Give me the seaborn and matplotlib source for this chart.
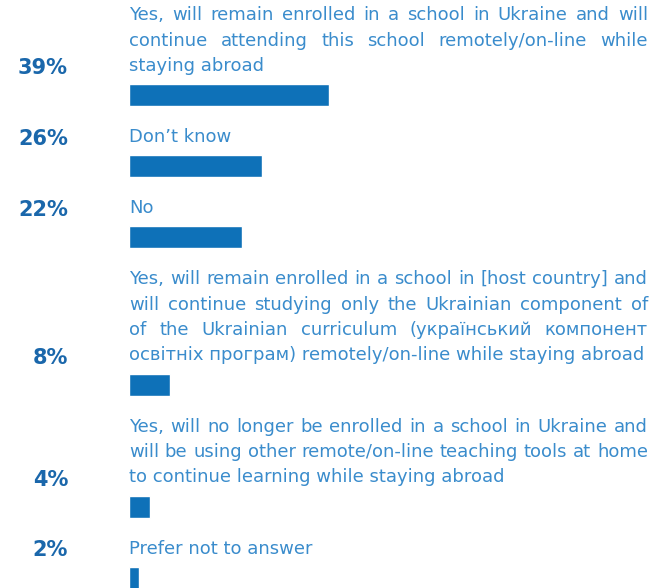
import matplotlib
matplotlib.use("Agg")
import matplotlib.pyplot as plt
import seaborn as sns
import pandas as pd

# data
values = [39, 26, 22, 8, 4, 2]
pct_labels = ["39%", "26%", "22%", "8%", "4%", "2%"]
answers = [
    ["Yes, will remain enrolled in a school in Ukraine and will",
     "continue attending this school remotely/on-line while",
     "staying abroad"],
    ["Don\u2019t know"],
    ["No"],
    ["Yes, will remain enrolled in a school in [host country] and",
     "will continue studying only the Ukrainian component of",
     "of the Ukrainian curriculum (український компонент",
     "освітніх програм) remotely/on-line while staying abroad"],
    ["Yes, will no longer be enrolled in a school in Ukraine and",
     "will be using other remote/on-line teaching tools at home",
     "to continue learning while staying abroad"],
    ["Prefer not to answer"],
]

BAR_C = "#0e71b8"
TXT_C = "#3a8ccc"
PCT_C = "#1a67ab"

W, H = 667, 588
sns.set_style("white")
plt.rcParams["font.family"] = ["DejaVu Sans"]

# vertical layout in pixels, from the number of label lines
line_h, first_y, to_bar, to_next, bar_h = 25.5, 15, 29, 42, 22
line_y, bar_y = [], []
y = first_y
for lines in answers:
    ys = [y + i * line_h for i in range(len(lines))]
    line_y.append(ys)
    bar_y.append(ys[-1] + to_bar)
    y = bar_y[-1] + to_next

fig = plt.figure(figsize=(W / 100, H / 100), dpi=100)
left, right = 129, 648
px_per_pct = 200 / 39
ax = fig.add_axes([left / W, 0, 1 - left / W, 1])
df = pd.DataFrame({"value": values, "pos": bar_y})
gaps = sorted(b - a for a, b in zip(bar_y[:-1], bar_y[1:]))
sns.barplot(data=df, x="value", y="pos", orient="h", native_scale=True,
            color=BAR_C, saturation=1, width=bar_h / gaps[0], ax=ax)
ax.set_xlim(0, (W - left) / px_per_pct)
ax.set_ylim(H, 0)
ax.axis("off")

# overlay axes in pixel units for text
tx = fig.add_axes([0, 0, 1, 1])
tx.set_xlim(0, W)
tx.set_ylim(H, 0)
tx.axis("off")

fs = 13
fig.canvas.draw()
rend = fig.canvas.get_renderer()
for lines, ys, pct in zip(answers, line_y, pct_labels):
    tx.text(68, ys[-1] + 2, pct, ha="right", va="center", fontsize=15,
            fontweight="bold", color=PCT_C)
    for i, (ln, yy) in enumerate(zip(lines, ys)):
        if i == len(lines) - 1:
            tx.text(left, yy, ln, ha="left", va="center", fontsize=fs, color=TXT_C)
            continue
        # justify full lines
        words = ln.split(" ")
        objs = [tx.text(0, yy, w_, ha="left", va="center", fontsize=fs, color=TXT_C)
                for w_ in words]
        widths = [o.get_window_extent(rend).width for o in objs]
        gap = (right - left - sum(widths)) / (len(words) - 1)
        x = left
        for o, wd in zip(objs, widths):
            o.set_x(x)
            x += wd + gap

fig.savefig("out.png", dpi=100)
